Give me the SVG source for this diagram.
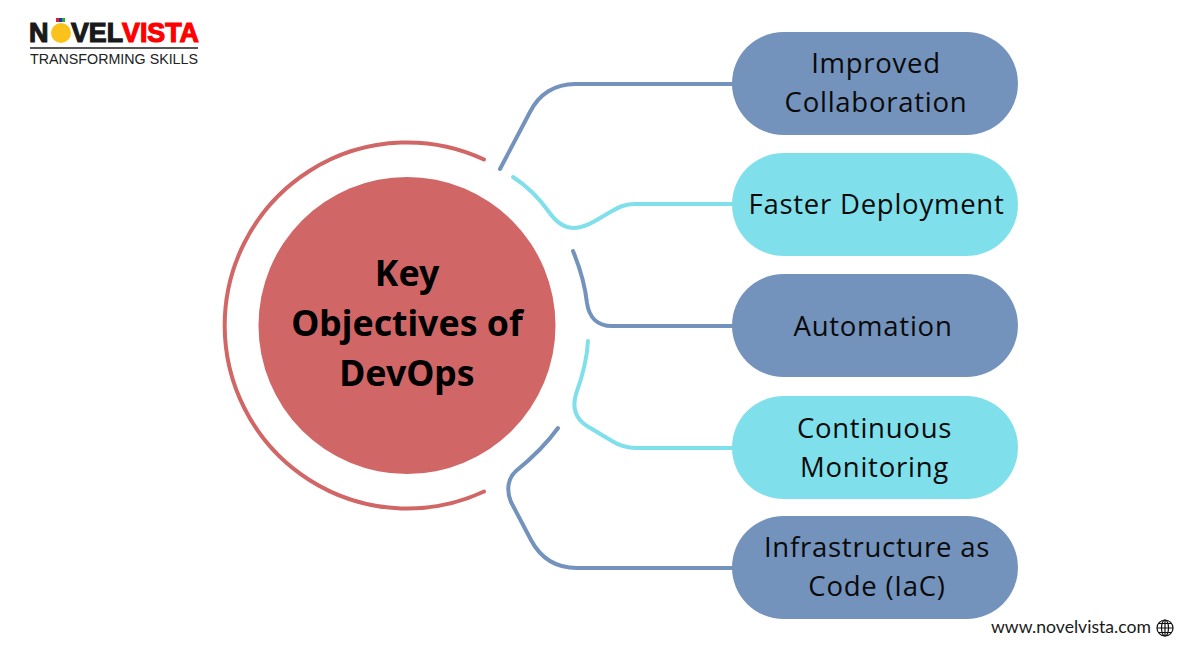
<svg xmlns="http://www.w3.org/2000/svg" width="1200" height="650" viewBox="0 0 1200 650">
<style>
.lbl{font-family:"Open Sans","Noto Sans",sans-serif;font-size:27.500px;letter-spacing:.75px;fill:#0a0a0a;text-anchor:middle}
.ttl{font-family:"Noto Sans","Open Sans",sans-serif;font-size:35.600px;font-weight:700;fill:#000;text-anchor:middle}
.c{fill:none;stroke-width:4;stroke-linecap:round;stroke-linejoin:round}
.b{stroke:#7393BD}.y{stroke:#7FE0EC}
.pb{fill:#7393BD}.py{fill:#7FE0EC}
.lg{font-family:"Liberation Sans",Arial,sans-serif;font-weight:700;font-size:27px;stroke-width:1.200}
.g{fill:none;stroke:#111;stroke-width:1.200}
</style>
<rect width="1200" height="650" fill="#fff"/>
<g id="logo">
<text class="lg" x="29" y="42" fill="#1a1a1a" stroke="#1a1a1a">N</text>
<rect x="56" y="18" width="3" height="4" fill="#d22"/><rect x="59" y="18" width="3" height="4" fill="#23b"/><rect x="62" y="18" width="3" height="4" fill="#2a3"/>
<circle cx="61" cy="33" r="10" fill="#FBC21B"/>
<text class="lg" x="71" y="42" fill="#1a1a1a" stroke="#1a1a1a" textLength="52" lengthAdjust="spacingAndGlyphs">VEL</text>
<text class="lg" x="122" y="42" fill="#f00" stroke="#f00" textLength="77" lengthAdjust="spacingAndGlyphs">VISTA</text>
<rect x="30" y="47" width="168" height="2" fill="#555"/>
<text x="30" y="64" font-family="Liberation Sans,Arial,sans-serif" font-size="14" fill="#222" textLength="168" lengthAdjust="spacingAndGlyphs">TRANSFORMING SKILLS</text>
</g>
<g id="connectors">
<path class="c b" d="M500 169L530 112C539 94 555 84 575 84H735"/>
<path class="c y" d="M513 177C527 186 539 198 549 212C556 222 564 228 574 228C582 228 588 225 595 221L612 211C619 207 625 204 635 204H735"/>
<path class="c b" d="M573 251C580 268 585 285 587 303C589 317 597 326 612 326H735"/>
<path class="c y" d="M588 341C587 360 583 375 576 394C572 408 576 419 587 426L612 441C620 446 627 448 636 448H735"/>
<path class="c b" d="M558 428C545 446 532 458 516 471C508 478 506 490 511 502L531 540C540 557 555 568 577 568H735"/>
</g>
<g id="hub">
<path d="M484 159.500A182.500 183 0 1 0 484 491.500" fill="none" stroke="#D16666" stroke-width="4" stroke-linecap="round"/>
<circle cx="407" cy="325.500" r="148.500" fill="#D16666"/>
<text class="ttl" x="407" y="286">Key</text>
<text class="ttl" x="407" y="336">Objectives of</text>
<text class="ttl" x="407" y="386">DevOps</text>
</g>
<g id="n1"><rect class="pb" x="732" y="32" width="286" height="103" rx="51.500"/><text class="lbl" x="876" y="73">Improved</text><text class="lbl" x="876" y="112">Collaboration</text></g>
<g id="n2"><rect class="py" x="732" y="153" width="286" height="103" rx="51.500"/><text class="lbl" x="876.500" y="214">Faster Deployment</text></g>
<g id="n3"><rect class="pb" x="732" y="274" width="286" height="103" rx="51.500"/><text class="lbl" x="873" y="336">Automation</text></g>
<g id="n4"><rect class="py" x="732" y="396" width="286" height="103" rx="51.500"/><text class="lbl" x="874.500" y="438">Continuous</text><text class="lbl" x="874.500" y="477">Monitoring</text></g>
<g id="n5"><rect class="pb" x="732" y="516" width="286" height="103" rx="51.500"/><text class="lbl" x="877" y="557">Infrastructure as</text><text class="lbl" x="877" y="596">Code (IaC)</text></g>
<g id="web">
<text x="991" y="633" font-family="Lato,Roboto,sans-serif" font-size="16.500" fill="#1a1a1a" textLength="160" lengthAdjust="spacingAndGlyphs">www.novelvista.com</text>
<circle class="g" cx="1165" cy="628" r="8"/><ellipse class="g" cx="1165" cy="628" rx="3.500" ry="8"/><path class="g" d="M1165 620V636M1157 628H1173M1158.500 623.500H1171.500M1158.500 632.500H1171.500"/>
</g>
</svg>
